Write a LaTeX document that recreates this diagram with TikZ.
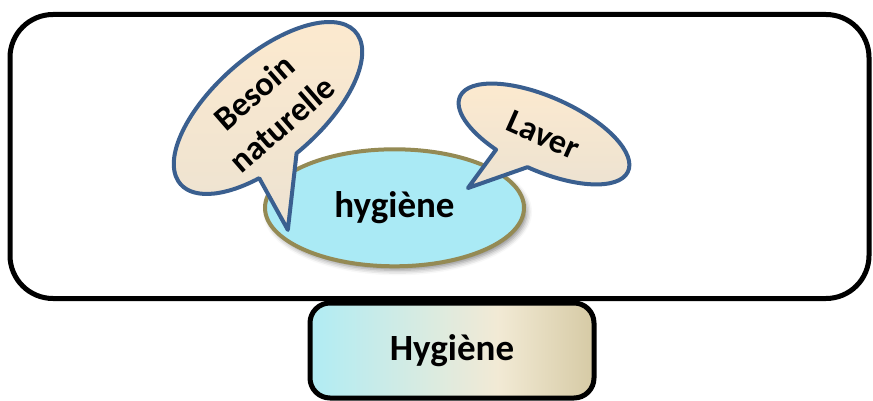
\documentclass[tikz,border=0pt]{standalone}
\usepackage{fontspec}
\setmainfont{Carlito}
\usetikzlibrary{positioning,shapes.geometric,shadows.blur}

\definecolor{hygcyan}{HTML}{AAEAF5}
\definecolor{hygolive}{HTML}{948A54}
\definecolor{bubblue}{HTML}{3A5F8F}
\definecolor{bubtop}{HTML}{FDEACF}
\definecolor{bubbot}{HTML}{ECE2D1}
\definecolor{boxcyan}{HTML}{B0ECF4}
\definecolor{boxcream}{HTML}{F2EAD5}
\definecolor{boxtan}{HTML}{D6CAA5}
\pgfdeclarehorizontalshading{boxshade}{100bp}{color(0bp)=(boxcyan); color(25bp)=(boxcyan); color(58bp)=(boxcream); color(75bp)=(boxtan); color(100bp)=(boxtan)}

\begin{document}
\begin{tikzpicture}[x=1pt, y=-1pt,
    bigfont/.style={font=\fontsize{37}{44}\selectfont\bfseries},
    bubfont/.style={font=\fontsize{34}{42}\selectfont\bfseries},
    frame/.style={draw, line width=5pt, rounded corners=43pt, minimum width=859pt, minimum height=284pt},
    topic/.style={ellipse, draw=hygolive, fill=hygcyan, line width=4pt, minimum width=259pt, minimum height=117pt, inner sep=0pt, bigfont,
        blur shadow={shadow xshift=3pt, shadow yshift=-4pt, shadow blur radius=5pt, shadow opacity=45}},
    bubble/.style={draw=bubblue, line width=4pt, line join=round, top color=bubtop, bottom color=bubbot},
    bubtext/.style={inner sep=0pt, align=center, bubfont},
    titlebox/.style={draw, line width=5pt, rounded corners=20pt, minimum width=284pt, minimum height=95pt, shade, shading=boxshade, bigfont}
]
\useasboundingbox (0,0) rectangle (873,401);
\node[titlebox] (hyg) at (452,350.5) {Hygiène};
\node[frame] (cadre) at (439.5,156.5) {};
\node[topic] (theme) at (394.5,207.8) {\raisebox{-4pt}{hygiène}};
% bulles
\begin{scope}[shift={(268,108)}, rotate=41, yscale=-1]
  \draw[bubble] (266:116 and 53) arc[start angle=266, end angle=603, x radius=116, y radius=53] -- (-65,-105) -- cycle;
\end{scope}
\begin{scope}[shift={(544,134)}, rotate=-24, yscale=-1]
  \draw[bubble] (269:92 and 37) arc[start angle=269, end angle=606, x radius=92, y radius=37] -- (-47.5,-80.3) -- cycle;
\end{scope}
\node[bubtext, rotate=41] (besoin) at (268,108) {Besoin\\naturelle};
\node[bubtext, rotate=-24] (laver) at (543,135) {Laver};
\end{tikzpicture}
\end{document}
